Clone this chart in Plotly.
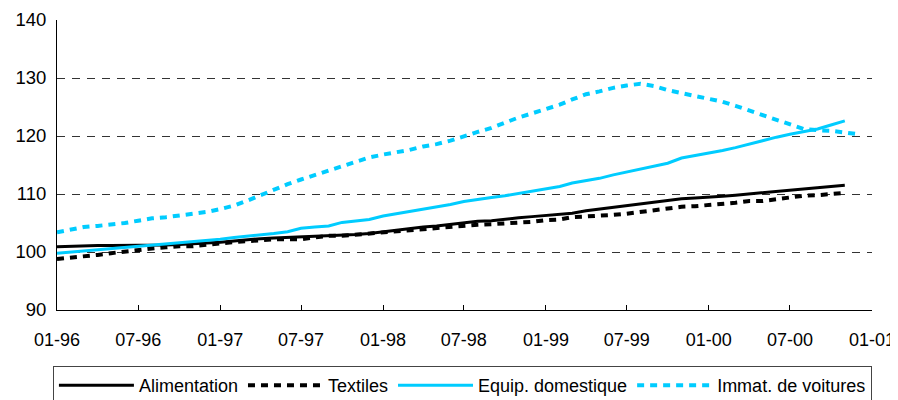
import pandas as pd
import plotly.graph_objects as go

start = "1996-01-01"

alimentation = [100.9, 101.0, 101.1, 101.1, 101.1, 101.1, 101.1, 101.1, 101.2, 101.3,
                101.4, 101.5, 101.7, 101.9, 102.1, 102.3, 102.4, 102.5, 102.5, 102.6,
                102.8, 102.9, 103.0, 103.2, 103.5, 103.7, 104.0, 104.3, 104.5, 104.8,
                105.0, 105.3, 105.4, 105.7, 105.9, 106.1, 106.3, 106.4, 106.7, 107.1,
                107.4, 107.7, 108.1, 108.4, 108.7, 109.0, 109.2, 109.3, 109.4, 109.6,
                109.8, 110.0, 110.2, 110.4, 110.7, 110.9, 111.1, 111.3, 111.5]

textiles = [98.8, 99.0, 99.2, 99.5, 99.8, 100.1, 100.3, 100.6, 100.8, 101.0,
            101.0, 101.3, 101.5, 101.7, 101.9, 102.0, 102.2, 102.2, 102.2, 102.5,
            102.8, 102.8, 103.0, 103.1, 103.3, 103.6, 103.8, 103.9, 104.1, 104.4,
            104.5, 104.7, 104.8, 104.9, 105.1, 105.2, 105.5, 105.6, 106.0, 106.1,
            106.3, 106.4, 106.6, 106.9, 107.2, 107.5, 107.8, 107.9, 108.1, 108.2,
            108.5, 108.8, 108.8, 109.1, 109.4, 109.7, 109.8, 110.0, 110.2]

equip_domestique = [99.8, 100.0, 100.2, 100.4, 100.6, 100.8, 101.0, 101.1, 101.4, 101.6,
                    101.8, 102.0, 102.2, 102.5, 102.7, 103.0, 103.2, 103.5, 104.1, 104.3,
                    104.5, 105.1, 105.4, 105.6, 106.2, 106.6, 107.0, 107.4, 107.7, 108.2,
                    108.7, 109.1, 109.4, 109.7, 110.1, 110.6, 111.0, 111.3, 111.9, 112.3,
                    112.7, 113.3, 113.8, 114.3, 114.8, 115.3, 116.2, 116.6, 117.1, 117.5,
                    118.0, 118.6, 119.3, 119.8, 120.3, 120.8, 121.2, 121.9, 122.6]

immat_voitures = [103.4, 103.9, 104.3, 104.5, 104.7, 105.0, 105.4, 105.8, 106.0, 106.3,
                  106.6, 106.9, 107.4, 108.0, 108.8, 109.8, 110.7, 111.7, 112.5, 113.3,
                  114.0, 114.8, 115.5, 116.3, 116.8, 117.2, 117.6, 118.2, 118.6, 119.2,
                  120.0, 120.7, 121.4, 122.3, 123.2, 123.9, 124.6, 125.4, 126.3, 127.2,
                  127.7, 128.3, 128.7, 129.0, 128.6, 127.9, 127.4, 126.9, 126.4, 125.9,
                  125.2, 124.4, 123.6, 122.7, 121.9, 121.2, 121.0, 120.9, 120.6, 120.3]

series_names = ["Alimentation", "Textiles", "Equip. domestique", "Immat. de voitures"]

CYAN = "#00CCFF"
FONT = "Liberation Sans, Arial, sans-serif"


def months(n):
    return pd.date_range(start, periods=n, freq="MS")


fig = go.Figure()
styles = [
    (alimentation, dict(color="black", width=3)),
    (textiles, dict(color="black", width=4, dash="7px,6px")),
    (equip_domestique, dict(color=CYAN, width=3)),
    (immat_voitures, dict(color=CYAN, width=4, dash="7px,6px")),
]
for name, (vals, line) in zip(series_names, styles):
    fig.add_trace(go.Scatter(x=months(len(vals)), y=vals, mode="lines",
                             name=name, line=line))

fig.update_layout(
    width=890, height=392,
    margin=dict(l=49, r=26, t=12, b=90, autoexpand=False),
    paper_bgcolor="white", plot_bgcolor="white",
    font=dict(family=FONT, size=18, color="black"),
    showlegend=True,
    legend=dict(
        orientation="h", x=-0.005, xanchor="left", y=-0.193, yanchor="top",
        font=dict(family=FONT, size=18, color="black"),
        bordercolor="#444", borderwidth=1, bgcolor="white",
        itemwidth=75, traceorder="normal",
    ),
    xaxis=dict(
        type="date", range=["1996-01-01", "2001-01-01"],
        tick0="1996-01-01", dtick="M6", tickformat="%m-%y",
        showgrid=False, showline=True, linecolor="black", linewidth=1,
        ticks="inside", ticklen=5, tickcolor="black", tickwidth=1,
        tickfont=dict(size=18), ticklabelstandoff=13, zeroline=False,
    ),
    yaxis=dict(
        range=[90, 140], dtick=10, tick0=90,
        showgrid=True, gridcolor="#333", gridwidth=1, griddash="8px,7px",
        showline=True, linecolor="black", linewidth=1,
        ticks="", tickfont=dict(size=18.5), zeroline=False,
        ticklabelstandoff=6,
    ),
)

fig.write_html("out.html")
